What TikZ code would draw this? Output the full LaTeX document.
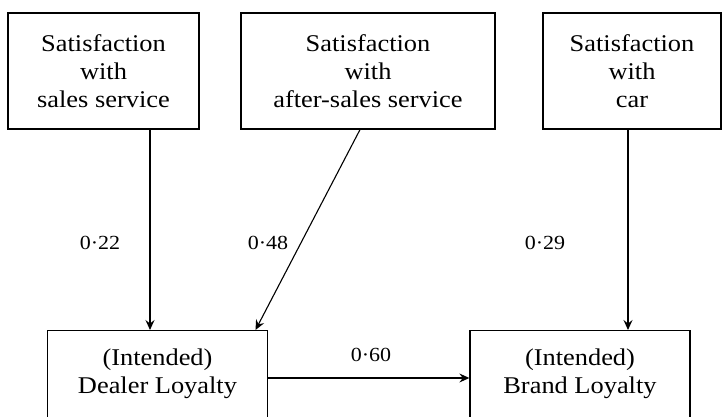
\documentclass[tikz,border=0pt]{standalone}
\usepackage{fontspec}
\setmainfont{Liberation Serif}[FakeStretch=1.1]
\usetikzlibrary{arrows.meta}

\tikzset{
  factor/.style={draw, line width=1.3pt, align=center, inner sep=0pt,
    font=\fontsize{24}{28}\selectfont},
  loyal/.style={factor, anchor=north, minimum width=220pt, inner ysep=18pt,
    text depth=70pt},
  path coef/.style={font=\fontsize{20}{24}\selectfont},
  link/.style={-{Stealth[length=10pt,width=9pt,inset=3.5pt]}, line width=1.1pt}
}

\begin{document}
\begin{tikzpicture}[x=1pt, y=-1pt]
  \useasboundingbox (0,0) rectangle (723,417);
  \clip (0,0) rectangle (723,417);

  % satisfaction boxes (top row)
  \node[factor, minimum width=191pt, minimum height=116pt] (sales) at (103.5,71)
    {Satisfaction\\with\\sales service};
  \node[factor, minimum width=254pt, minimum height=116pt] (after) at (368,71)
    {Satisfaction\\with\\after-sales service};
  \node[factor, minimum width=178pt, minimum height=116pt] (car) at (632,71)
    {Satisfaction\\with\\car};

  % loyalty boxes (bottom row, cut off by the page)
  \node[loyal] (dealer) at (157.5,330) {(Intended)\\Dealer Loyalty};
  \node[loyal] (brand)  at (580,330)   {(Intended)\\Brand Loyalty};

  % paths
  \draw[link] ([xshift=46.5pt]sales.south) -- ([xshift=-7.5pt]dealer.north);
  \draw[link] ([xshift=-8pt]after.south) -- ([xshift=98pt]dealer.north);
  \draw[link] ([xshift=-4pt]car.south) -- ([xshift=48pt]brand.north);
  \draw[link] ([yshift=-48pt]dealer.north east) -- ([yshift=-48pt]brand.north west);

  % coefficients
  \node[path coef] (c1) at (100,243) {0·22};
  \node[path coef] (c2) at (268,243) {0·48};
  \node[path coef] (c3) at (545,243) {0·29};
  \node[path coef] (c4) at (371,355) {0·60};
\end{tikzpicture}
\end{document}
